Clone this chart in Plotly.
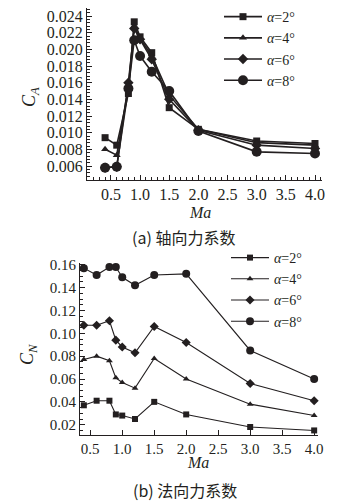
import plotly.graph_objects as go

# ---- data ----
ma_a = [0.4, 0.6, 0.8, 0.9, 1.0, 1.2, 1.5, 2.0, 3.0, 4.0]
ca_2 = [0.0094, 0.0085, 0.0147, 0.0233, 0.0215, 0.0196, 0.0130, 0.0104, 0.0090, 0.0087]
ca_4 = [0.0080, 0.0073, 0.0155, 0.0228, 0.0213, 0.0192, 0.0145, 0.0104, 0.0088, 0.0085]
ca_6 = [0.0058, 0.0059, 0.0160, 0.0225, 0.0212, 0.0188, 0.0140, 0.0103, 0.0085, 0.0081]
ca_8 = [0.0058, 0.0059, 0.0153, 0.0211, 0.0192, 0.0173, 0.0150, 0.0102, 0.0077, 0.0075]

ma_n = [0.4, 0.6, 0.8, 0.9, 1.0, 1.2, 1.5, 2.0, 3.0, 4.0]
cn_2 = [0.037, 0.041, 0.041, 0.029, 0.028, 0.025, 0.040, 0.029, 0.018, 0.015]
cn_4 = [0.077, 0.080, 0.076, 0.061, 0.057, 0.052, 0.078, 0.060, 0.038, 0.028]
cn_6 = [0.107, 0.107, 0.111, 0.094, 0.088, 0.083, 0.106, 0.092, 0.056, 0.041]
cn_8 = [0.157, 0.151, 0.158, 0.158, 0.149, 0.142, 0.151, 0.152, 0.085, 0.060]

labels = ["<i>α</i>=2°", "<i>α</i>=4°", "<i>α</i>=6°", "<i>α</i>=8°"]
symbols = ["square", "triangle-up", "diamond", "circle"]
sizes_a = [7, 7, 8, 10]
sizes_n = [6, 6, 7, 8]

x_ticks = [0.5, 1.0, 1.5, 2.0, 2.5, 3.0, 3.5, 4.0]
x_tick_text = ["0.5", "1.0", "1.5", "2.0", "2.5", "3.0", "3.5", "4.0"]
ya_ticks = [0.006, 0.008, 0.010, 0.012, 0.014, 0.016, 0.018, 0.020, 0.022, 0.024]
ya_tick_text = ["0.006", "0.008", "0.010", "0.012", "0.014", "0.016", "0.018", "0.020", "0.022", "0.024"]
yn_ticks = [0.02, 0.04, 0.06, 0.08, 0.10, 0.12, 0.14, 0.16]
yn_tick_text = ["0.02", "0.04", "0.06", "0.08", "0.10", "0.12", "0.14", "0.16"]

ink = "#231f20"
serif = "Liberation Serif, Times New Roman, serif"
cjk = "Noto Sans CJK SC"

W, H = 342, 495  # page body has an 8px margin in the 350x503 window


def px(x):
    return (x - 8) / W


def py(y):
    return 1 - (y - 8) / H


fig = go.Figure()
for lab, sym, sz, ys in zip(labels, symbols, sizes_a, [ca_2, ca_4, ca_6, ca_8]):
    fig.add_trace(go.Scatter(x=ma_a, y=ys, mode="lines+markers", name=lab,
                             line=dict(color=ink, width=1.6),
                             marker=dict(symbol=sym, size=sz, color=ink),
                             xaxis="x", yaxis="y", legend="legend", cliponaxis=False))
for lab, sym, sz, ys in zip(labels, symbols, sizes_n, [cn_2, cn_4, cn_6, cn_8]):
    fig.add_trace(go.Scatter(x=ma_n, y=ys, mode="lines+markers", name=lab,
                             line=dict(color=ink, width=1.1),
                             marker=dict(symbol=sym, size=sz, color=ink),
                             xaxis="x2", yaxis="y2", legend="legend2", cliponaxis=False))


def axis(size):
    return dict(showline=True, linecolor=ink, linewidth=1.2, ticks="inside",
                tickcolor=ink, ticklen=5, showgrid=False, zeroline=False,
                ticklabeloverflow="allow",
                tickfont=dict(family=serif, size=size, color=ink), mirror=False)


fig.update_layout(
    width=W, height=H,
    margin=dict(l=0, r=0, t=0, b=0, autoexpand=False),
    paper_bgcolor="white", plot_bgcolor="white",
    showlegend=True,
    xaxis=dict(domain=[px(87), px(322)], anchor="y", range=[0.09, 4.12],
               tickvals=x_ticks, ticktext=x_tick_text,
               minor=dict(dtick=0.1, tick0=0.0, ticks="inside", ticklen=3, tickcolor=ink),
               **axis(16)),
    yaxis=dict(domain=[py(180), 1.0], anchor="x", range=[0.00432, 0.02496],
               tickvals=ya_ticks, ticktext=ya_tick_text,
               minor=dict(dtick=0.0004, tick0=0.0, ticks="inside", ticklen=3, tickcolor=ink),
               **axis(16)),
    xaxis2=dict(domain=[px(80), px(318)], anchor="y2", range=[0.34, 4.06],
                tickvals=x_ticks, ticktext=x_tick_text,
                **axis(15)),
    yaxis2=dict(domain=[py(435), py(263)], anchor="x2", range=[0.011, 0.1615],
                tickvals=yn_ticks, ticktext=yn_tick_text,
                minor=dict(dtick=0.005, tick0=0.0, ticks="inside", ticklen=3, tickcolor=ink),
                **axis(15)),
    legend=dict(x=px(219), y=1.014, xanchor="left", yanchor="top", bgcolor="rgba(0,0,0,0)",
                font=dict(family=serif, size=14, color=ink), itemwidth=38, tracegroupgap=0),
    legend2=dict(x=px(226), y=py(242), xanchor="left", yanchor="top", bgcolor="rgba(0,0,0,0)",
                 font=dict(family=serif, size=14, color=ink), itemwidth=38, tracegroupgap=0),
    annotations=[
        dict(text="<i>C</i><sub><i>A</i></sub>", x=px(30), y=py(97), xref="paper", yref="paper",
             textangle=-90, showarrow=False, xanchor="center", yanchor="middle",
             font=dict(family=serif, size=18, color=ink)),
        dict(text="<i>Ma</i>", x=px(200), y=py(212), xref="paper", yref="paper",
             showarrow=False, xanchor="center", yanchor="middle",
             font=dict(family=serif, size=16, color=ink)),
        dict(text="<i>C</i><sub><i>N</i></sub>", x=px(28), y=py(355), xref="paper", yref="paper",
             textangle=-90, showarrow=False, xanchor="center", yanchor="middle",
             font=dict(family=serif, size=18, color=ink)),
        dict(text="<i>Ma</i>", x=px(198), y=py(462), xref="paper", yref="paper",
             showarrow=False, xanchor="center", yanchor="middle",
             font=dict(family=serif, size=16, color=ink)),
        dict(text="(a) 轴向力系数", x=px(183), y=py(237), xref="paper", yref="paper",
             showarrow=False, xanchor="center", yanchor="middle",
             font=dict(family=cjk, size=16, color=ink)),
        dict(text="(b) 法向力系数", x=px(185), y=py(490), xref="paper", yref="paper",
             showarrow=False, xanchor="center", yanchor="middle",
             font=dict(family=cjk, size=16, color=ink)),
    ],
)

fig.write_html("out.html")
